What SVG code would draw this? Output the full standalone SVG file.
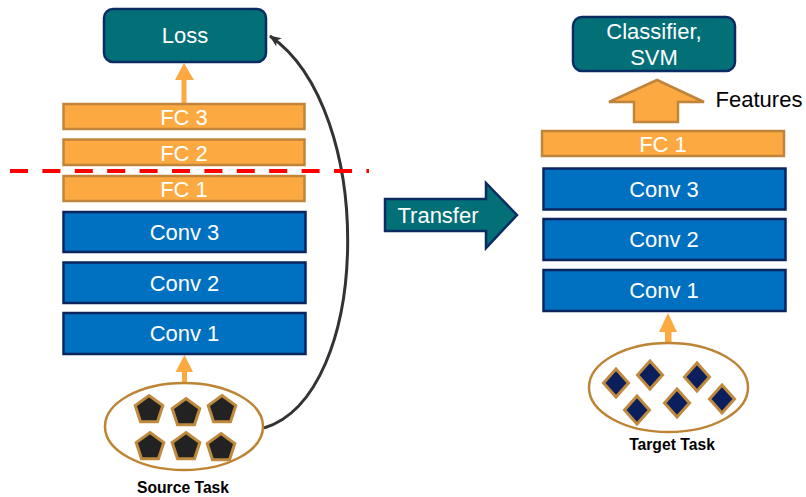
<svg xmlns="http://www.w3.org/2000/svg" width="806" height="497" viewBox="0 0 806 497">
<style>
text{font-family:"Liberation Sans",Arial,sans-serif;font-size:22px;text-anchor:middle}
.w{fill:#ffffff}
.k{fill:#000000}
.b{font-weight:bold;font-size:15.7px}
.teal{fill:#037078;stroke:#0B2B63;stroke-width:2.5}
.conv{fill:#0070C0;stroke:#0B2460;stroke-width:2.5}
.fc{fill:#FCA942;stroke:#C0843A;stroke-width:2.5}
.oarr{fill:#FCA942}
.set{fill:#ffffff;stroke:#BC8433;stroke-width:2.5}
.pent{fill:#222222;stroke:#C08A3E;stroke-width:3}
.dia{fill:#0B1F5C;stroke:#C08A3E;stroke-width:3}
</style>
<defs>
<polygon id="pent" points="0,-14.5 13.8,-4.5 8.5,11.7 -8.5,11.7 -13.8,-4.5"/>
<polygon id="dia" points="0,-14 12.5,0 0,14 -12.5,0"/>
<marker id="ah" viewBox="0 0 12 10" refX="11" refY="5" markerWidth="12" markerHeight="10" markerUnits="userSpaceOnUse" orient="auto">
<path d="M0,0 L12,5 L0,10 L3,5 Z" fill="#333333"/>
</marker>
</defs>

<g id="connectors">
<polygon class="oarr" points="181.5,104 186.5,104 186.5,80 194,80 184,63 175,80 181.5,80"/>
<polygon class="oarr" points="182,383 187,383 187,372 193,372 184.5,355 175.5,372 182,372"/>
<polygon class="oarr" points="665,343 671.5,343 671.5,332 677,332 668,313 659,332 665,332"/>
<path d="M264,428 C372,395 377,110 270,36" fill="none" stroke="#333333" stroke-width="3" marker-end="url(#ah)"/>
<line x1="10" y1="171" x2="369" y2="171" stroke="#FF0000" stroke-width="4" stroke-dasharray="18 14.4"/>
</g>

<g id="loss">
<rect class="teal" x="104" y="9" width="162" height="53" rx="9"/>
<text class="w" x="185" y="43">Loss</text>
</g>
<g id="fc3">
<rect class="fc" x="63.5" y="104" width="241" height="25"/>
<text class="w" x="184" y="124.5">FC 3</text>
</g>
<g id="fc2">
<rect class="fc" x="63.5" y="139.5" width="241" height="25.5"/>
<text class="w" x="184" y="160.5">FC 2</text>
</g>
<g id="fc1">
<rect class="fc" x="63.5" y="176" width="241" height="25"/>
<text class="w" x="184" y="196.5">FC 1</text>
</g>
<g id="conv3">
<rect class="conv" x="63.5" y="212" width="242" height="40"/>
<text class="w" x="184.5" y="240">Conv 3</text>
</g>
<g id="conv2">
<rect class="conv" x="63.5" y="262.5" width="242" height="40.5"/>
<text class="w" x="184.5" y="290.5">Conv 2</text>
</g>
<g id="conv1">
<rect class="conv" x="63.5" y="313" width="242" height="41"/>
<text class="w" x="184.5" y="341">Conv 1</text>
</g>
<g id="source">
<ellipse class="set" cx="184" cy="426.5" rx="79" ry="43.5"/>
<use href="#pent" class="pent" x="149" y="410"/>
<use href="#pent" class="pent" x="186" y="413"/>
<use href="#pent" class="pent" x="222" y="410"/>
<use href="#pent" class="pent" x="150" y="447"/>
<use href="#pent" class="pent" x="186" y="447"/>
<use href="#pent" class="pent" x="221" y="448"/>
<text class="k b" x="183" y="493">Source Task</text>
</g>

<g id="transfer">
<polygon class="teal" points="385,199 486,199 486,183 517,215 486,248 486,231 385,231"/>
<text class="w" x="438" y="223">Transfer</text>
</g>

<g id="classifier">
<rect class="teal" x="573" y="17" width="162" height="54" rx="9"/>
<text class="w" x="654" y="39">Classifier,</text>
<text class="w" x="654" y="65">SVM</text>
</g>
<g id="features">
<polygon class="fc" points="634,122 678,122 678,102 704,102 657,80 609,102 634,102"/>
<text class="k" x="759" y="107">Features</text>
</g>
<g id="r-fc1">
<rect class="fc" x="542" y="131" width="242" height="25"/>
<text class="w" x="663" y="151.5">FC 1</text>
</g>
<g id="r-conv3">
<rect class="conv" x="543.5" y="168.5" width="242" height="41"/>
<text class="w" x="664" y="196.5">Conv 3</text>
</g>
<g id="r-conv2">
<rect class="conv" x="543.5" y="219" width="242" height="41"/>
<text class="w" x="664" y="247">Conv 2</text>
</g>
<g id="r-conv1">
<rect class="conv" x="543.5" y="270" width="242" height="41"/>
<text class="w" x="664" y="298">Conv 1</text>
</g>
<g id="target">
<ellipse class="set" cx="668.5" cy="387.5" rx="79.5" ry="44.5"/>
<use href="#dia" class="dia" x="616" y="383"/>
<use href="#dia" class="dia" x="650" y="375"/>
<use href="#dia" class="dia" x="637" y="410"/>
<use href="#dia" class="dia" x="677" y="403"/>
<use href="#dia" class="dia" x="697" y="377"/>
<use href="#dia" class="dia" x="722" y="399"/>
<text class="k b" x="672" y="450">Target Task</text>
</g>
</svg>
